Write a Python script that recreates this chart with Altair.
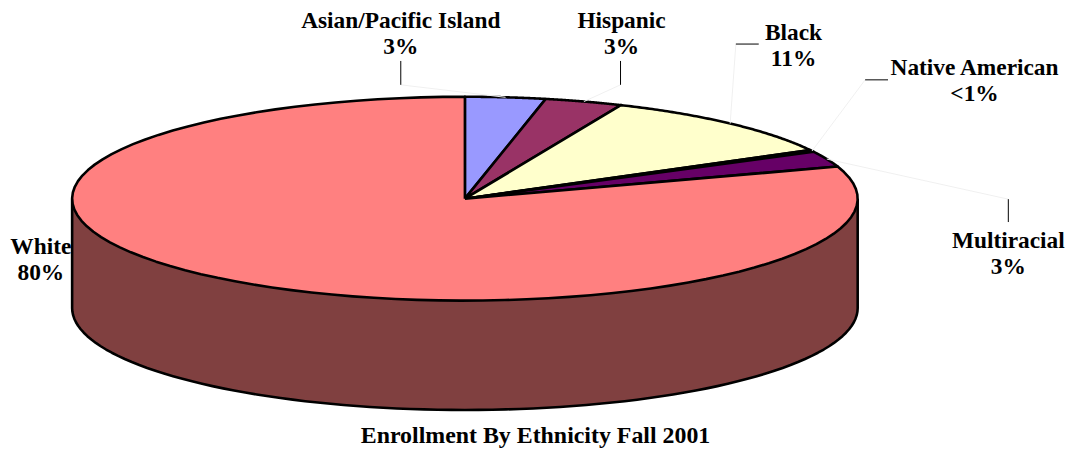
import math
import altair as alt
import pandas as pd

# ---------------- data ----------------
CATEGORIES = ["Asian/Pacific Island", "Hispanic", "Black", "Native American", "Multiracial", "White"]
SHARES = [3.3, 3.2, 10.6, 0.3, 2.5, 80.1]
PCT_LABELS = ["3%", "3%", "11%", "<1%", "3%", "80%"]
COLORS = ["#9999FF", "#993366", "#FFFFCC", "#CCFFFF", "#660066", "#FF8080"]
TITLE = "Enrollment By Ethnicity Fall 2001"

# ---------------- layout (reference page pixels) ----------------
W, H = 1057, 441
CX, CY, RX, RY, DEPTH = 467.5, 197.5, 395.0, 102.5, 110.0
WALL_COLOR = "#804040"
N = 90
FONT = "Liberation Serif, Times New Roman, serif"
LABEL_X = [403, 625, 798, 980, 1014, 41]
LABEL_Y = [26, 26, 38, 73, 247, 253]
TICK_OUTER = [(403, 59), (624, 59), (763, 42), (893, 78), (1014, 221), None]
TICK_INNER = [(403, 83), (624, 83), (740, 42), (870, 78), (1014, 198), None]
TITLE_X, TITLE_Y = 538.5, 443

xs = alt.Scale(domain=[8, 8 + W], nice=False, zero=False)
ys = alt.Scale(domain=[8 + H, 8], nice=False, zero=False)

# ---------------- slices (top face of the 3-D pie) ----------------
slices = pd.DataFrame({"category": CATEGORIES, "share": SHARES,
                       "color": COLORS, "idx": list(range(len(CATEGORIES)))})

pie = (
    alt.Chart(slices)
    .transform_window(cum="sum(share)", sort=[alt.SortField("idx")], frame=[None, 0])
    .transform_joinaggregate(total="sum(share)")
    .transform_calculate(
        a0="2*PI*(datum.cum - datum.share)/datum.total",
        a1="2*PI*datum.cum/datum.total",
        k=f"sequence(0, {N + 3})",
    )
    .transform_flatten(["k"])
    .transform_calculate(
        ang=f"datum.a0 + (datum.a1 - datum.a0)*clamp(datum.k - 1, 0, {N})/{N}",
    )
    .transform_calculate(
        px=f"(datum.k == 0 || datum.k == {N + 2}) ? {CX} : {CX} + {RX}*sin(datum.ang)",
        py=f"(datum.k == 0 || datum.k == {N + 2}) ? {CY} : {CY} - {RY}*cos(datum.ang)",
    )
    .mark_line(stroke="black", strokeWidth=2.6, strokeJoin="round")
    .encode(
        x=alt.X("px:Q", scale=xs, axis=None),
        y=alt.Y("py:Q", scale=ys, axis=None),
        order=alt.Order("k:Q"),
        detail="category:N",
        fill=alt.Fill("color:N", scale=None, legend=None),
    )
)

# ---------------- side wall ----------------
wall = (
    alt.Chart(alt.sequence(0, N + 3, as_="k"))
    .transform_calculate(ang=f"PI/2 + PI*clamp(datum.k - 1, 0, {N})/{N}")
    .transform_calculate(
        px=f"{CX} + {RX}*sin(datum.ang)",
        py=f"(datum.k == 0 || datum.k == {N + 2}) ? {CY} : {CY + DEPTH} - {RY}*cos(datum.ang)",
    )
    .mark_line(stroke="black", strokeWidth=2.6, strokeJoin="round", fill=WALL_COLOR)
    .encode(
        x=alt.X("px:Q", scale=xs, axis=None),
        y=alt.Y("py:Q", scale=ys, axis=None),
        order=alt.Order("k:Q"),
    )
)

# ---------------- leader lines ----------------
total = sum(SHARES)
cum = 0.0
tick_rows, faint_rows = [], []
for i, s in enumerate(SHARES):
    mid = 2 * math.pi * (cum + s / 2) / total
    cum += s
    if TICK_OUTER[i] is None:
        continue
    (ox, oy), (ix, iy) = TICK_OUTER[i], TICK_INNER[i]
    tick_rows.append({"x": ox, "y": oy, "x2": ix, "y2": iy})
    faint_rows.append({"x": ix, "y": iy,
                       "x2": CX + RX * math.sin(mid), "y2": CY - RY * math.cos(mid)})

ticks = alt.Chart(pd.DataFrame(tick_rows)).mark_rule(color="black", strokeWidth=1).encode(
    x=alt.X("x:Q", scale=xs, axis=None), y=alt.Y("y:Q", scale=ys, axis=None),
    x2="x2:Q", y2="y2:Q")
faint = alt.Chart(pd.DataFrame(faint_rows)).mark_rule(color="#f0f0f0", strokeWidth=1).encode(
    x=alt.X("x:Q", scale=xs, axis=None), y=alt.Y("y:Q", scale=ys, axis=None),
    x2="x2:Q", y2="y2:Q")

# ---------------- labels ----------------
labels_df = pd.DataFrame({
    "text": [f"{c}\n{p}" for c, p in zip(CATEGORIES, PCT_LABELS)],
    "x": LABEL_X, "y": LABEL_Y,
})
labels = alt.Chart(labels_df).mark_text(
    font=FONT, fontSize=23.5, fontWeight="bold", lineBreak="\n", lineHeight=26,
    align="center", baseline="alphabetic", color="black",
).encode(x=alt.X("x:Q", scale=xs, axis=None), y=alt.Y("y:Q", scale=ys, axis=None), text="text:N")

title = alt.Chart(pd.DataFrame({"t": [TITLE], "x": [TITLE_X], "y": [TITLE_Y]})).mark_text(
    font=FONT, fontSize=24, fontWeight="bold", align="center", baseline="alphabetic", color="black",
).encode(x=alt.X("x:Q", scale=xs, axis=None), y=alt.Y("y:Q", scale=ys, axis=None), text="t:N")

chart = (
    alt.layer(wall, pie, faint, ticks, labels, title)
    .properties(width=W, height=H, padding=0, background="white")
    .configure_view(stroke=None)
)

chart.save("out.html", embed_options={"renderer": "svg", "actions": False})
